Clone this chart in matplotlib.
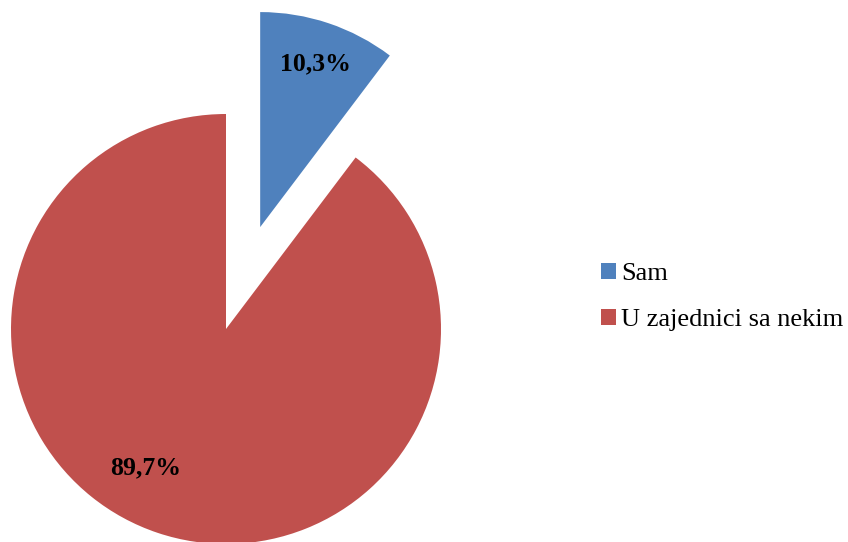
import matplotlib.pyplot as plt

# Podaci
kategorije = ["Sam", "U zajednici sa nekim"]
vrijednosti = [10.3, 89.7]
oznake = ["10,3%", "89,7%"]
boje = ["#4F81BD", "#C0504D"]

plt.rcParams['font.family'] = ['Liberation Serif', 'DejaVu Serif']

fig = plt.figure(figsize=(8.48, 5.42), dpi=100)
ax = fig.add_axes([0, 0, 1, 1])

r = 215
izdvajanje = [0.5 * r, 0]
wedges, _ = ax.pie(vrijednosti, colors=boje, explode=izdvajanje,
                   startangle=90, counterclock=False,
                   center=(226, 213), radius=r, frame=True)
ax.set_xlim(0, 848)
ax.set_ylim(0, 542)
ax.set_aspect("auto")
ax.axis("off")

# oznake postotaka
pozicije = [(315, 478), (146, 74)]
for (x, y), txt in zip(pozicije, oznake):
    ax.text(x, y, txt, ha="center", va="center", fontsize=18.5,
            fontweight="bold", color="black")

ax.legend(wedges, kategorije, loc="upper left",
          bbox_to_anchor=(601 / 848, 1 - 263 / 542),
          frameon=False, fontsize=19, handlelength=0.55, handleheight=0.55,
          handletextpad=0.2, labelspacing=0.9, borderpad=0, borderaxespad=0)

fig.savefig("out.png", dpi=100)
